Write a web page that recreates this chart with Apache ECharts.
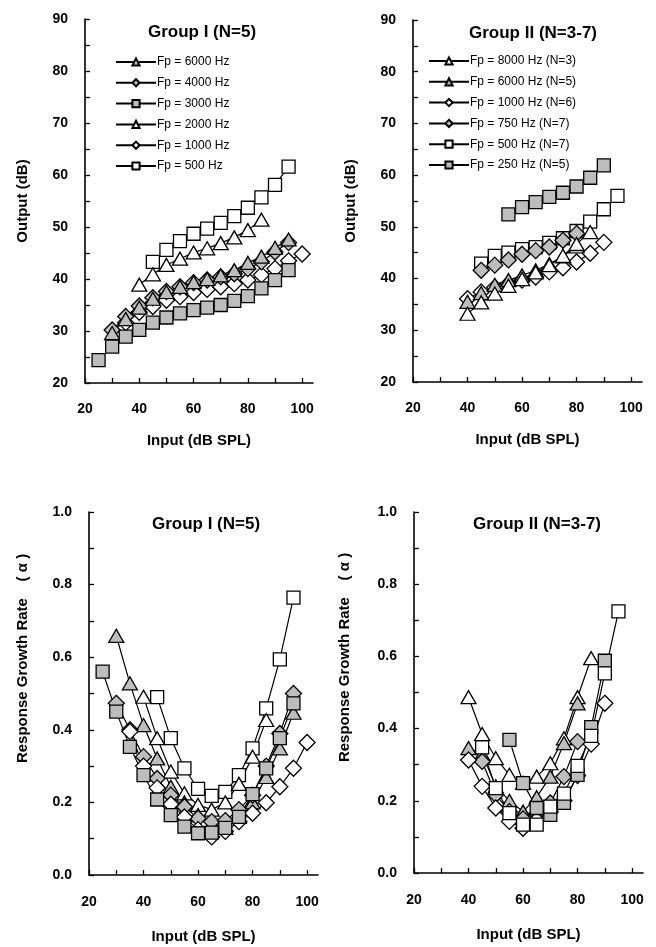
<!DOCTYPE html>
<html>
<head>
<meta charset="utf-8">
<script src="https://cdn.jsdelivr.net/npm/echarts@6/dist/echarts.min.js"></script>
<style>
  html, body { margin: 0; padding: 0; background: #fff; }
  #chart { width: 656px; height: 947px; }
</style>
</head>
<body>
<div id="chart"></div>
<script>
// ---------- Group I: output level vs input level ----------
const inG1_6000 = [30, 35, 40, 45, 50, 55, 60, 65, 70, 75, 80, 85, 90, 95];
const outG1_6000 = [29.6, 32.3, 34.5, 36.2, 37.5, 38.5, 39.4, 40.0, 40.7, 41.7, 43.1, 44.3, 46.0, 47.6];
const inG1_4000 = [30, 35, 40, 45, 50, 55, 60, 65, 70, 75, 80, 85, 90, 95];
const outG1_4000 = [30.2, 32.8, 34.8, 36.4, 37.6, 38.5, 39.3, 39.8, 40.4, 41.0, 42.0, 43.3, 45.2, 47.0];
const inG1_3000 = [25, 30, 35, 40, 45, 50, 55, 60, 65, 70, 75, 80, 85, 90, 95];
const outG1_3000 = [24.4, 27.0, 28.9, 30.2, 31.6, 32.6, 33.4, 34.0, 34.5, 35.0, 35.8, 36.7, 38.2, 39.8, 41.7];
const inG1_2000 = [40, 45, 50, 55, 60, 65, 70, 75, 80, 85];
const outG1_2000 = [38.9, 40.9, 42.7, 43.9, 45.1, 45.9, 46.9, 48.0, 49.4, 51.4];
const inG1_1000 = [35, 40, 45, 50, 55, 60, 65, 70, 75, 80, 85, 90, 95, 100];
const outG1_1000 = [31.6, 33.6, 34.7, 35.9, 36.6, 37.4, 38.0, 38.5, 39.1, 39.8, 40.8, 42.0, 43.5, 44.8];
const inG1_500 = [45, 50, 55, 60, 65, 70, 75, 80, 85, 90, 95];
const outG1_500 = [43.3, 45.6, 47.3, 48.7, 49.7, 50.8, 52.1, 53.7, 55.7, 58.1, 61.6];

// ---------- Group II: output level vs input level ----------
const inG2_8000 = [40, 45, 50, 55, 60, 65, 70, 75, 80, 85];
const outG2_8000 = [33.2, 35.4, 37.1, 38.6, 39.9, 41.2, 42.6, 44.4, 46.7, 49.0];
const inG2_6000 = [40, 45, 50, 55, 60, 65, 70, 75, 80];
const outG2_6000 = [35.5, 37.2, 38.8, 39.7, 40.6, 41.6, 42.8, 44.3, 46.2];
const inG2_1000 = [40, 45, 50, 55, 60, 65, 70, 75, 80, 85, 90];
const outG2_1000 = [36.1, 37.4, 38.3, 39.0, 39.7, 40.3, 41.3, 42.1, 43.2, 44.9, 47.0];
const inG2_750 = [45, 50, 55, 60, 65, 70, 75, 80];
const outG2_750 = [41.6, 42.6, 43.6, 44.7, 45.4, 46.1, 47.4, 48.7];
const inG2_500 = [45, 50, 55, 60, 65, 70, 75, 80, 85, 90, 95];
const outG2_500 = [42.9, 44.4, 45.0, 45.7, 46.1, 46.9, 47.8, 49.2, 51.0, 53.4, 56.0];
const inG2_250 = [55, 60, 65, 70, 75, 80, 85, 90];
const outG2_250 = [52.4, 53.8, 54.8, 55.8, 56.6, 57.8, 59.5, 61.9];

// ---------- Group I: response growth rate ----------
const rgrG1_6000 = [0.659, 0.528, 0.413, 0.321, 0.243, 0.200, 0.165, 0.140, 0.130, 0.160, 0.200, 0.270, 0.349, 0.447];
const rgrG1_4000 = [0.473, 0.400, 0.326, 0.266, 0.220, 0.188, 0.156, 0.147, 0.150, 0.180, 0.220, 0.300, 0.390, 0.500];
const rgrG1_3000 = [0.560, 0.450, 0.353, 0.275, 0.208, 0.165, 0.133, 0.115, 0.117, 0.130, 0.160, 0.223, 0.294, 0.377, 0.473];
const rgrG1_2000 = [0.491, 0.377, 0.285, 0.225, 0.193, 0.180, 0.200, 0.251, 0.326, 0.427];
const rgrG1_1000 = [0.395, 0.300, 0.240, 0.195, 0.160, 0.125, 0.105, 0.120, 0.147, 0.170, 0.199, 0.243, 0.294, 0.365];
const rgrG1_500 = [0.490, 0.377, 0.294, 0.237, 0.218, 0.229, 0.275, 0.349, 0.459, 0.594, 0.764];

// ---------- Group II: response growth rate ----------
const rgrG2_8000 = [0.487, 0.385, 0.318, 0.272, 0.250, 0.267, 0.304, 0.373, 0.487, 0.595];
const rgrG2_6000 = [0.346, 0.330, 0.240, 0.200, 0.170, 0.210, 0.267, 0.360, 0.470];
const rgrG2_1000 = [0.313, 0.240, 0.180, 0.143, 0.124, 0.147, 0.170, 0.200, 0.270, 0.357, 0.470];
const rgrG2_750 = [0.309, 0.217, 0.170, 0.150, 0.165, 0.194, 0.267, 0.364];
const rgrG2_500 = [0.348, 0.235, 0.166, 0.134, 0.134, 0.184, 0.220, 0.297, 0.380, 0.553, 0.725];
const rgrG2_250 = [0.369, 0.249, 0.180, 0.161, 0.194, 0.272, 0.404, 0.588];

// ---------- labels ----------
const namesG1 = ['Fp = 6000 Hz', 'Fp = 4000 Hz', 'Fp = 3000 Hz', 'Fp = 2000 Hz', 'Fp = 1000 Hz', 'Fp = 500 Hz'];
const namesG2 = ['Fp = 8000 Hz (N=3)', 'Fp = 6000 Hz (N=5)', 'Fp = 1000 Hz (N=6)', 'Fp = 750 Hz (N=7)', 'Fp = 500 Hz (N=7)', 'Fp = 250 Hz (N=5)'];
const panelTitles = ['Group I (N=5)', 'Group II (N=3-7)', 'Group I (N=5)', 'Group II (N=3-7)'];
const inputTicks = [20, 30, 40, 50, 60, 70, 80, 90, 100];
const inputLabels = [20, 40, 60, 80, 100];
const outputTicks = [20, 25, 30, 35, 40, 45, 50, 55, 60, 65, 70, 75, 80, 85, 90];
const outputLabels = [20, 30, 40, 50, 60, 70, 80, 90];
const rateTicks = [0, 0.1, 0.2, 0.3, 0.4, 0.5, 0.6, 0.7, 0.8, 0.9, 1.0];
const rateLabels = [0, 0.2, 0.4, 0.6, 0.8, 1.0];

// ---------- styling ----------
const FONT = '"Liberation Sans", Arial, Helvetica, sans-serif';
const GRAY = '#bdbdbd';
const MARK = {
  triOpen: { symbol: 'triangle', size: [15, 13], fill: '#fff' },
  triGray: { symbol: 'triangle', size: [15, 13], fill: GRAY },
  diaOpen: { symbol: 'diamond', size: [16, 16], fill: '#fff' },
  diaGray: { symbol: 'diamond', size: [16, 16], fill: GRAY },
  sqOpen: { symbol: 'rect', size: [13, 13], fill: '#fff' },
  sqGray: { symbol: 'rect', size: [13, 13], fill: GRAY }
};

const grids = [
  { left: 85, top: 19, width: 228, height: 364 },
  { left: 413, top: 20, width: 229, height: 362 },
  { left: 89, top: 512, width: 229, height: 363 },
  { left: 414, top: 512, width: 229, height: 361 }
];

function pairs(xs, ys) { return xs.map((x, i) => [x, ys[i]]); }

function lineSeries(name, xs, ys, mark, gi) {
  return {
    type: 'line', name: name, xAxisIndex: gi, yAxisIndex: gi,
    data: pairs(xs, ys),
    symbol: mark.symbol, symbolSize: mark.size, showAllSymbol: true,
    itemStyle: { color: mark.fill, borderColor: '#000', borderWidth: 1.3 },
    lineStyle: { color: '#000', width: 1.2 },
    emphasis: { disabled: true }, clip: false, animation: false
  };
}

function xAxisFor(gi, nameGap, labelMargin) {
  return {
    type: 'value', gridIndex: gi, min: 20, max: 104,
    name: 'Input (dB SPL)', nameLocation: 'middle', nameGap: nameGap,
    nameTextStyle: { fontFamily: FONT, fontWeight: 'bold', fontSize: 15, color: '#000' },
    axisLine: { lineStyle: { color: '#000', width: 1.6 } },
    axisTick: { inside: true, length: 5, lineStyle: { color: '#000', width: 1.3 }, customValues: inputTicks },
    axisLabel: { customValues: inputLabels, margin: labelMargin, fontFamily: FONT, fontWeight: 'bold', fontSize: 14, color: '#000' },
    splitLine: { show: false }
  };
}

function yAxisOut(gi) {
  return {
    type: 'value', gridIndex: gi, min: 20, max: 90,
    name: 'Output (dB)', nameLocation: 'middle', nameGap: 55,
    nameTextStyle: { fontFamily: FONT, fontWeight: 'bold', fontSize: 15, color: '#000' },
    axisLine: { lineStyle: { color: '#000', width: 1.6 } },
    axisTick: { inside: true, length: 5, lineStyle: { color: '#000', width: 1.3 }, customValues: outputTicks },
    axisLabel: { customValues: outputLabels, margin: 17, fontFamily: FONT, fontWeight: 'bold', fontSize: 14, color: '#000' },
    splitLine: { show: false }
  };
}

function yAxisRate(gi, gap) {
  return {
    type: 'value', gridIndex: gi, min: 0, max: 1,
    name: 'Response Growth Rate    ( α )', nameLocation: 'middle', nameGap: gap,
    nameTextStyle: { fontFamily: FONT, fontWeight: 'bold', fontSize: 15, color: '#000', padding: [0, 0, 0, 70] },
    axisLine: { lineStyle: { color: '#000', width: 1.6 } },
    axisTick: { inside: true, length: 5, lineStyle: { color: '#000', width: 1.3 }, customValues: rateTicks },
    axisLabel: { customValues: rateLabels, margin: 17, fontFamily: FONT, fontWeight: 'bold', fontSize: 14, color: '#000',
      formatter: v => v.toFixed(1) },
    splitLine: { show: false }
  };
}

function legendFor(names, left, top) {
  return {
    data: names, left: left, top: top, orient: 'vertical',
    itemWidth: 40, itemHeight: 9, itemGap: 8.8, padding: 0,
    selectedMode: false,
    textStyle: { fontFamily: FONT, fontSize: 12, color: '#000', padding: [0, 0, 0, -4] }
  };
}

const titleCenters = [[202, 24], [533, 25], [206, 516], [537, 516]];

const series = [
  // Group I output
  lineSeries(namesG1[5], inG1_500, outG1_500, MARK.sqOpen, 0),
  lineSeries(namesG1[3], inG1_2000, outG1_2000, MARK.triOpen, 0),
  lineSeries(namesG1[4], inG1_1000, outG1_1000, MARK.diaOpen, 0),
  lineSeries(namesG1[1], inG1_4000, outG1_4000, MARK.diaGray, 0),
  lineSeries(namesG1[0], inG1_6000, outG1_6000, MARK.triGray, 0),
  lineSeries(namesG1[2], inG1_3000, outG1_3000, MARK.sqGray, 0),
  // Group II output
  lineSeries(namesG2[5], inG2_250, outG2_250, MARK.sqGray, 1),
  lineSeries(namesG2[4], inG2_500, outG2_500, MARK.sqOpen, 1),
  lineSeries(namesG2[3], inG2_750, outG2_750, MARK.diaGray, 1),
  lineSeries(namesG2[2], inG2_1000, outG2_1000, MARK.diaOpen, 1),
  lineSeries(namesG2[1], inG2_6000, outG2_6000, MARK.triGray, 1),
  lineSeries(namesG2[0], inG2_8000, outG2_8000, MARK.triOpen, 1),
  // Group I growth rate
  lineSeries(namesG1[5], inG1_500, rgrG1_500, MARK.sqOpen, 2),
  lineSeries(namesG1[3], inG1_2000, rgrG1_2000, MARK.triOpen, 2),
  lineSeries(namesG1[0], inG1_6000, rgrG1_6000, MARK.triGray, 2),
  lineSeries(namesG1[1], inG1_4000, rgrG1_4000, MARK.diaGray, 2),
  lineSeries(namesG1[4], inG1_1000, rgrG1_1000, MARK.diaOpen, 2),
  lineSeries(namesG1[2], inG1_3000, rgrG1_3000, MARK.sqGray, 2),
  // Group II growth rate
  lineSeries(namesG2[0], inG2_8000, rgrG2_8000, MARK.triOpen, 3),
  lineSeries(namesG2[1], inG2_6000, rgrG2_6000, MARK.triGray, 3),
  lineSeries(namesG2[3], inG2_750, rgrG2_750, MARK.diaGray, 3),
  lineSeries(namesG2[2], inG2_1000, rgrG2_1000, MARK.diaOpen, 3),
  lineSeries(namesG2[5], inG2_250, rgrG2_250, MARK.sqGray, 3),
  lineSeries(namesG2[4], inG2_500, rgrG2_500, MARK.sqOpen, 3)
];

const chart = echarts.init(document.getElementById('chart'), null, { renderer: 'canvas' });
chart.setOption({
  backgroundColor: '#fff',
  animation: false,
  title: panelTitles.map((t, i) => ({
    text: t, left: titleCenters[i][0], top: titleCenters[i][1], textAlign: 'center', padding: 0,
    textStyle: { fontFamily: FONT, fontWeight: 'bold', fontSize: 17, color: '#000' }
  })),
  legend: [legendFor(namesG1, 115, 56), legendFor(namesG2, 428, 55)],
  grid: grids,
  xAxis: [xAxisFor(0, 50, 19), xAxisFor(1, 50, 19), xAxisFor(2, 54, 20), xAxisFor(3, 54, 20)],
  yAxis: [yAxisOut(0), yAxisOut(1), yAxisRate(2, 59), yAxisRate(3, 62)],
  series: series
});
</script>
</body>
</html>
